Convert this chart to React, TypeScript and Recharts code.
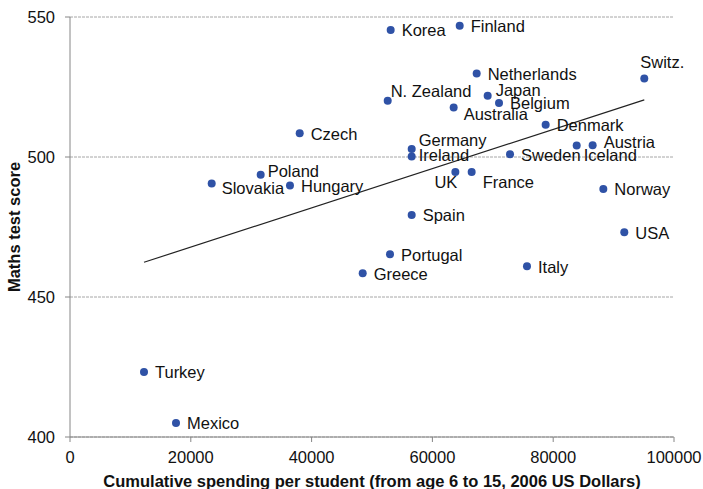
import React from 'react';
import { ScatterChart, Scatter, XAxis, YAxis, CartesianGrid, ReferenceLine, Label } from 'recharts';

const countries = [
  'Turkey', 'Mexico', 'Slovakia', 'Poland', 'Hungary', 'Czech', 'Korea', 'Finland',
  'Netherlands', 'Switz.', 'N. Zealand', 'Japan', 'Belgium', 'Australia', 'Denmark',
  'Germany', 'Ireland', 'Sweden', 'Iceland', 'Austria', 'UK', 'France', 'Norway',
  'Spain', 'USA', 'Portugal', 'Greece', 'Italy',
];
const spending = [
  12250, 17550, 23460, 31570, 36420, 38030, 53090, 64520,
  67330, 95080, 52600, 69150, 71030, 63520, 78750,
  56570, 56570, 72850, 83890, 86530, 63800, 66500, 88300,
  56570, 91770, 52980, 48460, 75660,
];
const mathsScore = [
  423.2, 405, 490.5, 493.7, 489.8, 508.5, 545.4, 546.9,
  529.8, 528, 520.1, 521.9, 519.3, 517.7, 511.5,
  502.9, 500.2, 501, 504.1, 504.2, 494.6, 494.6, 488.6,
  479.3, 473.1, 465.3, 458.5, 461,
];
const xTicks = [0, 20000, 40000, 60000, 80000, 100000];
const yTicks = [400, 450, 500, 550];
const trendX = [12250, 95080];
const trendY = [462.4, 520.4];

const points = countries.map((name, i) => ({ name, x: spending[i], y: mathsScore[i] }));
const trendSegment = trendX.map((x, i) => ({ x, y: trendY[i] }));

// label placement (style only)
const placement: Record<string, { dx: number; dy: number; anchor?: string }> = {
  'Switz.': { dx: -4, dy: -17 },
  'N. Zealand': { dx: 3, dy: -10 },
  'Japan': { dx: 8, dy: -6 },
  'Australia': { dx: 10, dy: 7 },
  'Germany': { dx: 7, dy: -9 },
  'Ireland': { dx: 7, dy: -1 },
  'Iceland': { dx: 7, dy: 9.5 },
  'Austria': { dx: 11, dy: -3.5 },
  'UK': { dx: 2, dy: 10, anchor: 'end' },
  'France': { dx: 11, dy: 9.5 },
  'Poland': { dx: 7, dy: -3.5 },
  'Slovakia': { dx: 10, dy: 4 },
};
const defaultPlacement = { dx: 11, dy: 0.5 };

const FONT = '"Liberation Sans", Arial, sans-serif';
const FS = 16.5;
const DOT = '#2f52a6';

const DotWithLabel = (props: any) => {
  const { cx, cy, payload } = props;
  const p = placement[payload.name] ?? defaultPlacement;
  return (
    <g>
      <circle cx={cx} cy={cy} r={4} fill={DOT} />
      <text
        x={cx + p.dx}
        y={cy + p.dy + 5.9}
        textAnchor={(p.anchor as any) || 'start'}
        fontSize={FS}
        fontFamily={FONT}
        fill="#111"
      >
        {payload.name}
      </text>
    </g>
  );
};

export default function App() {
  return (
    <div style={{ position: 'absolute', left: 0, top: 0, background: '#fff' }}>
      <ScatterChart width={703} height={489} margin={{ top: 17, right: 29, left: 0, bottom: 0 }}>
        <CartesianGrid horizontal vertical={false} stroke="#a6a6a6" strokeDasharray="3 1" />
        <XAxis
          type="number"
          dataKey="x"
          domain={[0, 100000]}
          ticks={xTicks}
          height={52}
          stroke="#868686"
          tickSize={5}
          tickMargin={9}
          tick={{ fill: '#111', fontSize: FS, fontFamily: FONT }}
          interval={0}
        >
          <Label
            content={(lp: any) => {
              const vb = lp.viewBox;
              return (
                <text
                  x={vb.x + vb.width / 2}
                  y={487}
                  textAnchor="middle"
                  fontSize={FS}
                  fontWeight="bold"
                  fontFamily={FONT}
                  fill="#111"
                >
                  Cumulative spending per student (from age 6 to 15, 2006 US Dollars)
                </text>
              );
            }}
          />
        </XAxis>
        <YAxis
          type="number"
          dataKey="y"
          domain={[400, 550]}
          ticks={yTicks}
          width={70}
          stroke="#868686"
          tickSize={5}
          tickMargin={10}
          tick={{ fill: '#111', fontSize: FS, fontFamily: FONT }}
          interval={0}
        >
          <Label
            content={(lp: any) => {
              const vb = lp.viewBox;
              const cx = 20;
              const cy = vb.y + vb.height / 2;
              return (
                <text
                  x={cx}
                  y={cy}
                  transform={`rotate(-90 ${cx} ${cy})`}
                  textAnchor="middle"
                  fontSize={FS}
                  fontWeight="bold"
                  fontFamily={FONT}
                  fill="#111"
                >
                  Maths test score
                </text>
              );
            }}
          />
        </YAxis>
        <ReferenceLine segment={trendSegment} stroke="#222" strokeWidth={1.2} />
        <Scatter data={points} shape={DotWithLabel} isAnimationActive={false} />
      </ScatterChart>
    </div>
  );
}
